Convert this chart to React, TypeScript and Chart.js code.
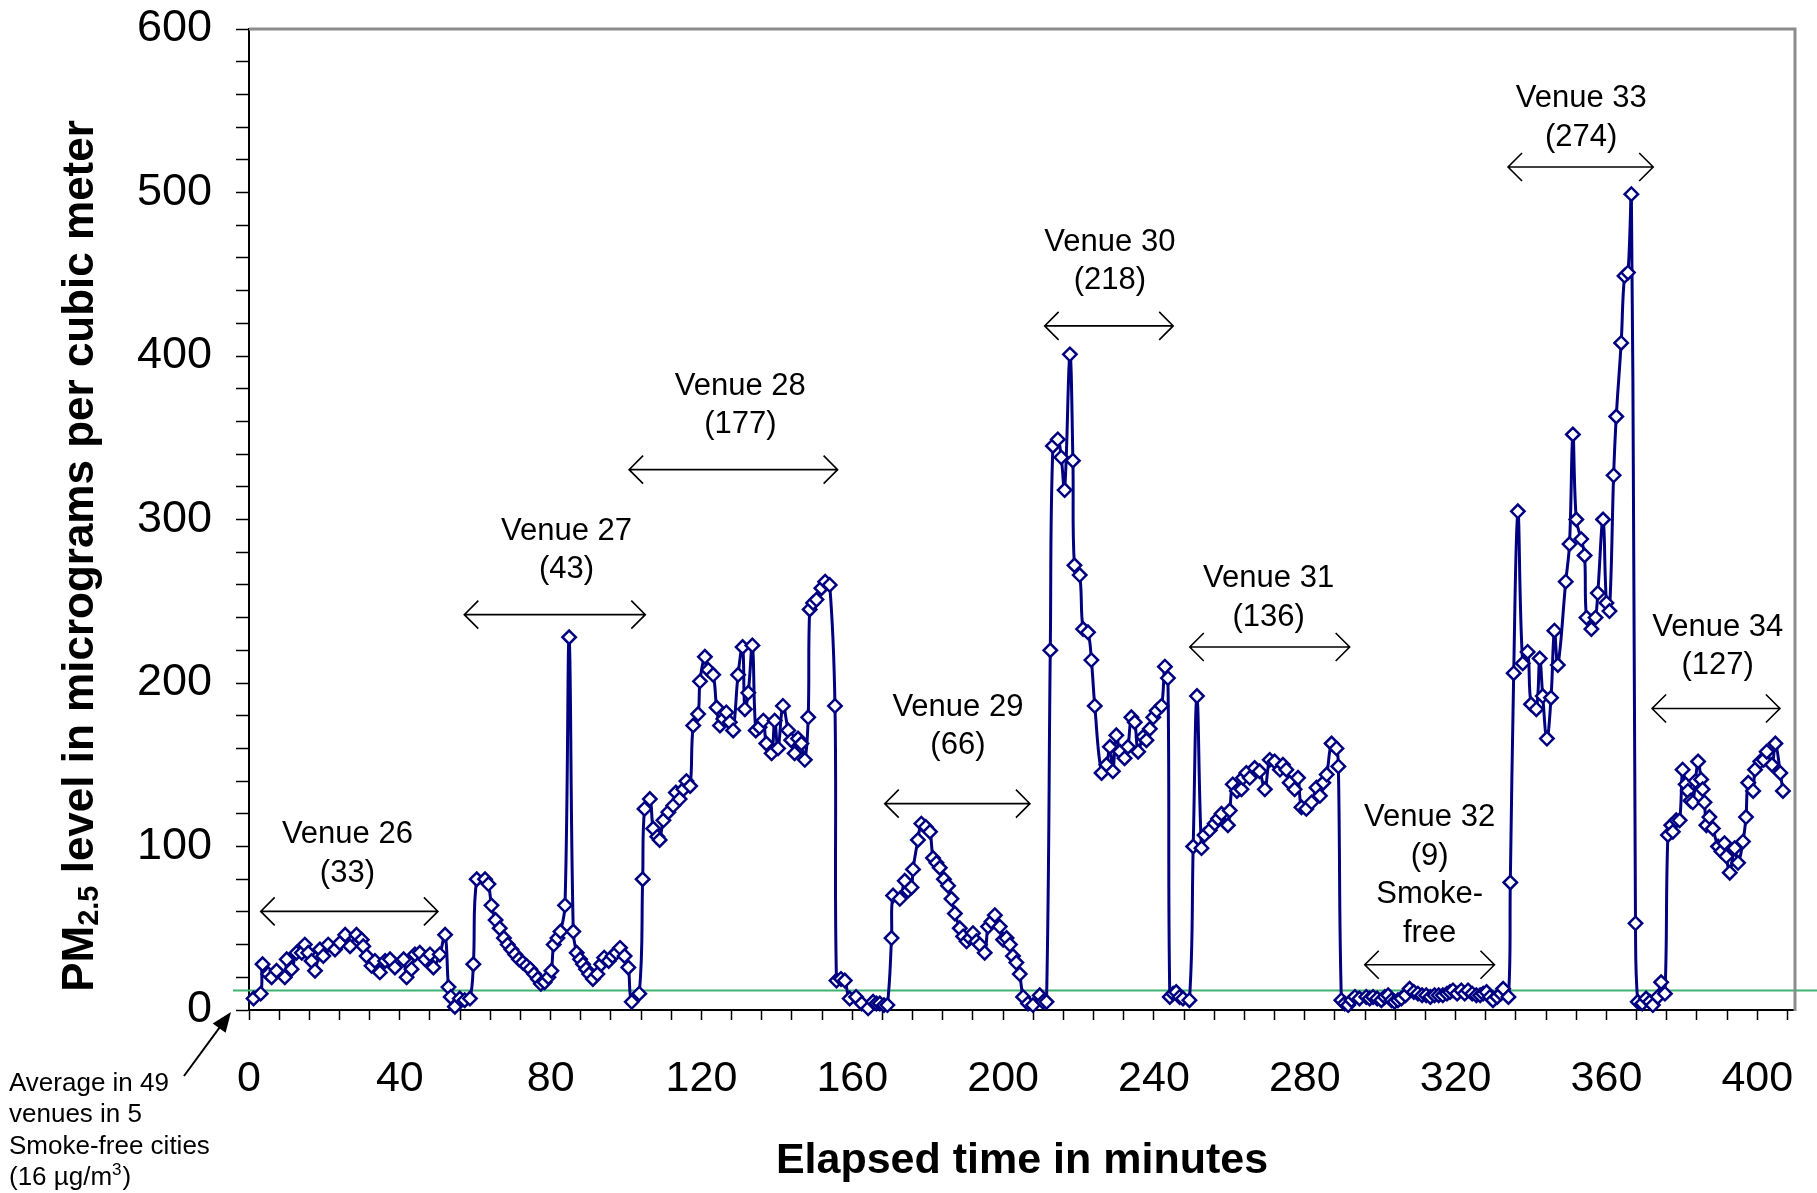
import React, { useEffect, useRef } from 'react';
import { Chart, registerables } from 'chart.js';

Chart.register(...registerables);

const FONT = "'Liberation Sans', Arial, Helvetica, sans-serif";

// ---------- Data (elapsed minutes, PM2.5 in µg/m³) ----------
const venue26Minutes = [1.2, 3.1, 3.6, 5.1, 6.0, 7.3, 9.5, 10.0, 11.3, 12.6, 14.0, 14.8, 15.7, 16.6, 17.5, 18.8, 19.7, 21.0, 22.8, 24.1, 25.5, 26.8, 28.5, 29.9, 30.3, 31.2, 32.5, 33.4, 34.7, 36.1, 37.4, 38.7, 41.0, 41.8, 43.1, 44.0, 45.3, 46.7, 48.0, 48.9, 50.6, 52.0, 52.9, 53.5, 54.6, 55.9, 57.2, 58.6];
const venue26Pm = [7, 10, 28, 22, 20, 24, 20, 31, 25, 35, 35, 40, 35, 30, 24, 37, 33, 40, 37, 41, 46, 39, 46, 43, 39, 33, 27, 30, 23, 30, 31, 26, 31, 20, 25, 34, 35, 31, 34, 26, 34, 46, 14, 8, 2, 7, 6, 7];

const venue27Minutes = [59.5, 60.4, 62.6, 63.5, 64.3, 65.4, 66.5, 67.6, 68.6, 69.6, 70.6, 71.6, 72.6, 73.6, 74.6, 75.6, 76.6, 77.4, 78.4, 79.4, 80.2, 80.8, 81.8, 82.6, 83.8, 84.9, 86.0, 86.9, 87.8, 88.6, 89.4, 90.2, 91.2, 92.4, 93.4, 94.2, 95.4, 96.4, 97.4, 98.4, 99.6, 100.6, 101.5, 103.5];
const venue27Pm = [28, 80, 80, 77, 64, 55, 50, 44, 40, 37, 34, 31, 29, 27, 25, 22, 19, 16, 17, 20, 24, 40, 44, 48, 64, 228, 48, 35, 31, 28, 25, 22, 19, 22, 28, 32, 30, 33, 35, 38, 33, 26, 5, 10];

const venue28Minutes = [104.4, 104.9, 106.3, 107.2, 108.3, 108.9, 109.9, 111.2, 112.5, 113.2, 114.2, 115.2, 116.0, 117.0, 117.8, 119.1, 119.6, 120.9, 121.8, 123.1, 124.0, 124.9, 125.8, 126.6, 127.5, 128.4, 129.7, 130.9, 131.5, 132.4, 133.5, 134.4, 135.4, 136.4, 137.2, 138.6, 139.4, 140.3, 141.6, 143.0, 143.8, 144.7, 145.6, 146.5, 147.4, 148.3, 148.7, 149.6, 150.5, 151.8, 152.8, 154.0, 155.4, 155.8, 157.0, 158.0, 159.3, 161.0, 162.5, 164.2, 165.5, 166.4, 167.3, 168.4, 169.3];
const venue28Pm = [80, 123, 129, 111, 106, 104, 116, 121, 125, 133, 129, 135, 140, 137, 174, 181, 201, 216, 208, 205, 185, 174, 178, 182, 176, 171, 205, 222, 184, 194, 223, 171, 173, 177, 163, 157, 177, 160, 186, 171, 165, 157, 166, 163, 153, 179, 245, 249, 251, 258, 262, 260, 186, 18, 19, 18, 7, 8, 4, 1, 5, 4, 4, 3, 3];

const venue29Minutes = [170.4, 170.8, 172.6, 173.9, 174.8, 175.7, 176.1, 177.4, 178.3, 179.5, 180.6, 181.4, 182.3, 183.2, 184.3, 185.4, 186.3, 187.2, 188.5, 189.4, 190.3, 191.2, 192.0, 192.9, 193.8, 195.1, 196.0, 196.9, 197.8, 199.1, 200.0, 200.9, 201.8, 202.6, 203.5, 204.4, 205.3, 206.6, 207.9, 209.7, 210.6, 211.5];
const venue29Pm = [44, 70, 68, 79, 73, 75, 86, 104, 114, 112, 109, 93, 90, 87, 80, 76, 68, 59, 50, 45, 42, 44, 47, 42, 40, 35, 51, 54, 58, 51, 43, 44, 40, 33, 29, 22, 8, 4, 3, 9, 5, 5];

const venue30Minutes = [212.5, 213.2, 214.5, 215.4, 216.3, 217.7, 218.5, 218.9, 220.3, 221.2, 222.5, 223.4, 224.3, 226.1, 227.4, 228.3, 229.1, 230.0, 231.0, 232.2, 233.1, 234.0, 234.9, 235.8, 237.1, 238.0, 238.9, 239.8, 240.7, 242.0, 242.9, 243.7, 244.2, 245.1, 245.9, 246.8, 247.7, 249.4];
const venue30Pm = [220, 345, 349, 338, 318, 401, 336, 272, 266, 233, 231, 214, 186, 145, 150, 161, 146, 168, 158, 154, 161, 179, 176, 158, 167, 165, 172, 179, 183, 186, 210, 203, 8, 10, 11, 8, 7, 6];

const venue31Minutes = [250.4, 251.4, 252.6, 253.4, 254.8, 256.1, 257.0, 257.9, 259.6, 260.1, 260.9, 262.0, 263.2, 263.6, 264.5, 265.4, 266.7, 268.0, 269.4, 270.7, 272.0, 273.4, 274.2, 275.1, 276.0, 277.3, 278.2, 279.1, 280.4, 281.8, 283.1, 284.0, 284.9, 285.8, 287.1, 288.4, 288.9, 289.7, 290.6, 291.5, 292.4, 293.3];
const venue31Pm = [100, 192, 99, 107, 110, 114, 117, 120, 113, 122, 138, 134, 135, 142, 145, 142, 148, 146, 135, 153, 152, 147, 150, 147, 139, 135, 142, 124, 123, 127, 136, 131, 139, 144, 163, 160, 149, 6, 4, 3, 6, 8];

const venue32Minutes = [294.5, 296.3, 297.2, 298.1, 299.2, 300.3, 301.2, 302.1, 303.0, 303.8, 304.7, 305.6, 306.7, 307.8, 308.9, 310.0, 311.1, 312.2, 313.3, 314.4, 315.5, 316.6, 317.7, 318.5, 319.3, 320.4, 321.5, 322.4, 323.3, 324.4, 325.5, 326.5, 327.3, 328.2, 329.1, 329.9, 331.0, 332.0, 332.6, 334.0];
const venue32Pm = [7, 8, 7, 8, 7, 6, 8, 9, 6, 5, 6, 7, 9, 13, 11, 10, 9, 9, 8, 9, 9, 9, 10, 11, 12, 10, 12, 10, 12, 10, 9, 9, 10, 11, 8, 6, 8, 10, 13, 8];

const venue33Minutes = [334.5, 335.4, 336.5, 337.8, 339.1, 340.0, 341.4, 342.3, 343.1, 344.2, 345.3, 346.2, 347.1, 349.2, 350.2, 351.1, 352.0, 353.3, 354.2, 354.7, 356.0, 357.1, 357.7, 359.1, 360.0, 360.8, 361.9, 362.6, 363.9, 364.8, 365.7, 366.6, 367.7, 368.3, 369.5, 370.5, 371.5, 372.3, 373.6, 374.5, 375.5];
const venue33Pm = [78, 206, 305, 212, 219, 187, 184, 215, 192, 166, 191, 232, 211, 262, 285, 352, 300, 288, 278, 240, 233, 240, 255, 300, 249, 244, 327, 363, 408, 449, 451, 499, 53, 5, 4, 7, 5, 3, 8, 17, 10];

const venue34Minutes = [376.3, 377.2, 377.6, 378.5, 379.4, 380.2, 381.0, 381.6, 382.3, 382.9, 383.6, 384.3, 385.1, 385.5, 386.0, 386.5, 387.3, 388.2, 389.6, 390.5, 391.3, 391.8, 392.7, 394.0, 394.9, 396.2, 397.0, 397.6, 398.9, 399.4, 400.8, 401.7, 402.5, 403.9, 404.8, 406.1, 406.8];
const venue34Pm = [107, 113, 109, 116, 116, 147, 138, 134, 128, 127, 140, 152, 141, 135, 127, 113, 118, 111, 100, 97, 102, 94, 84, 99, 90, 103, 118, 139, 134, 147, 152, 153, 158, 150, 163, 145, 134];

// Venue labels: name, average in parentheses, extra notes
const venueNames = ['Venue 26', 'Venue 27', 'Venue 28', 'Venue 29', 'Venue 30', 'Venue 31', 'Venue 32', 'Venue 33', 'Venue 34'];
const venueAverages = ['(33)', '(43)', '(177)', '(66)', '(218)', '(136)', '(9)', '(274)', '(127)'];
const venueNotes: string[][] = [[], [], [], [], [], [], ['Smoke-', 'free'], [], []];

// Smoke-free reference line
const smokeFreeLevel = 12;
const smokeFreeNote = ['Average in 49', 'venues in 5', 'Smoke-free cities'];

// Axis settings
const xMax = 410;
const yMax = 600;
const xTickLabels = [0, 40, 80, 120, 160, 200, 240, 280, 320, 360, 400];
const yTickLabels = [0, 100, 200, 300, 400, 500, 600];

// Annotation placement (data coordinates)
const labelCenterMinute = [26.1, 84.2, 130.3, 188, 228.3, 270.4, 313.1, 353.3, 389.5];
const labelTopLevel = [107.3, 292.9, 381.6, 185.1, 469.5, 263.8, 117.7, 557.4, 234];
const arrowLevel = [60.3, 241.8, 330.5, 126.2, 418.4, 222, 27.7, 515.6, 184.4];
const arrowFromMinute = [3.1, 57.1, 100.8, 168.6, 211, 249.5, 295.9, 333.9, 372.1];
const arrowToMinute = [50.1, 105.1, 156.1, 207.1, 245.1, 291.9, 330.3, 372.4, 406];

const allMinutes = [
  ...venue26Minutes, ...venue27Minutes, ...venue28Minutes, ...venue29Minutes, ...venue30Minutes,
  ...venue31Minutes, ...venue32Minutes, ...venue33Minutes, ...venue34Minutes,
];
const allPm = [
  ...venue26Pm, ...venue27Pm, ...venue28Pm, ...venue29Pm, ...venue30Pm,
  ...venue31Pm, ...venue32Pm, ...venue33Pm, ...venue34Pm,
];

function drawDoubleArrow(ctx: CanvasRenderingContext2D, x1: number, x2: number, y: number) {
  const hx = 14;
  const hy = 14;
  ctx.save();
  ctx.strokeStyle = '#000';
  ctx.lineWidth = 1.6;
  ctx.beginPath();
  ctx.moveTo(x1, y);
  ctx.lineTo(x2, y);
  ctx.moveTo(x1 + hx, y - hy);
  ctx.lineTo(x1, y);
  ctx.lineTo(x1 + hx, y + hy);
  ctx.moveTo(x2 - hx, y - hy);
  ctx.lineTo(x2, y);
  ctx.lineTo(x2 - hx, y + hy);
  ctx.stroke();
  ctx.restore();
}

function zeroPadding(s: any) {
  s.paddingTop = 0;
  s.paddingBottom = 0;
  s.paddingLeft = 0;
  s.paddingRight = 0;
}

const overlayPlugin = {
  id: 'overlayPlugin',
  beforeDatasetsDraw(chart: any) {
    const { ctx, chartArea, scales } = chart;
    const y = scales.y.getPixelForValue(smokeFreeLevel);
    ctx.save();
    ctx.strokeStyle = '#3cb371';
    ctx.lineWidth = 2;
    ctx.beginPath();
    ctx.moveTo(chartArea.left - 16, y);
    ctx.lineTo(chart.width, y);
    ctx.stroke();
    ctx.restore();
  },
  afterDraw(chart: any) {
    const { ctx, chartArea, scales } = chart;
    const xs = scales.x;
    const ys = scales.y;

    // gray frame on top and right
    ctx.save();
    ctx.strokeStyle = '#8c8c8c';
    ctx.lineWidth = 3;
    ctx.beginPath();
    ctx.moveTo(chartArea.left, chartArea.top);
    ctx.lineTo(chartArea.right, chartArea.top);
    ctx.lineTo(chartArea.right, chartArea.bottom + 1);
    ctx.stroke();
    ctx.restore();

    // venue labels and arrows
    ctx.save();
    ctx.fillStyle = '#000';
    ctx.font = `31px ${FONT}`;
    ctx.textAlign = 'center';
    ctx.textBaseline = 'middle';
    venueNames.forEach((name, i) => {
      const cx = xs.getPixelForValue(labelCenterMinute[i]);
      const top = ys.getPixelForValue(labelTopLevel[i]);
      const lines = [name, venueAverages[i], ...venueNotes[i]];
      lines.forEach((ln, k) => ctx.fillText(ln, cx, top + k * 38.5));
      drawDoubleArrow(ctx, xs.getPixelForValue(arrowFromMinute[i]), xs.getPixelForValue(arrowToMinute[i]), ys.getPixelForValue(arrowLevel[i]));
    });
    ctx.restore();

    // x-axis title
    ctx.save();
    ctx.fillStyle = '#000';
    ctx.font = `bold 43px ${FONT}`;
    ctx.textAlign = 'center';
    ctx.textBaseline = 'middle';
    ctx.fillText('Elapsed time in minutes', (chartArea.left + chartArea.right) / 2, 1161);
    ctx.restore();

    // y-axis title with subscript
    ctx.save();
    ctx.fillStyle = '#000';
    const mainFont = `bold 44px ${FONT}`;
    const subFont = `bold 29px ${FONT}`;
    const parts: [string, string, number][] = [
      ['PM', mainFont, 0],
      ['2.5', subFont, 9],
      [' level in micrograms per cubic meter', mainFont, 0],
    ];
    let total = 0;
    const widths = parts.map(([t, f]) => { ctx.font = f; const w = ctx.measureText(t).width; total += w; return w; });
    ctx.translate(81, 556);
    ctx.rotate(-Math.PI / 2);
    ctx.textBaseline = 'middle';
    ctx.textAlign = 'left';
    let pos = -total / 2;
    parts.forEach(([t, f, dy], i) => {
      ctx.font = f;
      ctx.fillText(t, pos, dy);
      pos += widths[i];
    });
    ctx.restore();

    // bottom-left note with arrow
    ctx.save();
    ctx.fillStyle = '#000';
    ctx.font = `26px ${FONT}`;
    ctx.textAlign = 'left';
    ctx.textBaseline = 'middle';
    const noteY = [1083.5, 1115, 1146.5];
    smokeFreeNote.forEach((ln, k) => ctx.fillText(ln, 9, noteY[k]));
    let nx = 9;
    const lastY = 1178;
    const seg1 = '(16 \u00b5g/m';
    ctx.fillText(seg1, nx, lastY);
    nx += ctx.measureText(seg1).width;
    ctx.font = `17px ${FONT}`;
    ctx.fillText('3', nx, lastY - 8);
    nx += ctx.measureText('3').width + 1;
    ctx.font = `26px ${FONT}`;
    ctx.fillText(')', nx, lastY);

    const tipX = 231;
    const tipY = ys.getPixelForValue(0) + 2;
    const tailX = 184;
    const tailY = 1076;
    const ang = Math.atan2(tipY - tailY, tipX - tailX);
    ctx.strokeStyle = '#000';
    ctx.lineWidth = 2;
    ctx.beginPath();
    ctx.moveTo(tailX, tailY);
    ctx.lineTo(tipX - 12 * Math.cos(ang), tipY - 12 * Math.sin(ang));
    ctx.stroke();
    ctx.beginPath();
    ctx.moveTo(tipX, tipY);
    ctx.lineTo(tipX - 20 * Math.cos(ang) + 8 * Math.sin(ang), tipY - 20 * Math.sin(ang) - 8 * Math.cos(ang));
    ctx.lineTo(tipX - 20 * Math.cos(ang) - 8 * Math.sin(ang), tipY - 20 * Math.sin(ang) + 8 * Math.cos(ang));
    ctx.closePath();
    ctx.fill();
    ctx.restore();
  },
};

export default function App() {
  const ref = useRef<HTMLCanvasElement>(null);
  useEffect(() => {
    document.body.style.margin = '0';
    const canvas = ref.current;
    if (!canvas) return;
    const points = allMinutes.map((m, i) => ({ x: m, y: allPm[i] }));
    const chart = new Chart(canvas, {
      type: 'line',
      data: {
        datasets: [
          {
            label: 'PM2.5',
            data: points,
            borderColor: '#000080',
            borderWidth: 3,
            tension: 0.4,
            pointStyle: 'rectRot',
            pointRadius: 6.7,
            pointBorderWidth: 2.5,
            pointBackgroundColor: '#ffffff',
            pointBorderColor: '#000080',
            clip: false,
          } as any,
        ],
      },
      options: {
        responsive: false,
        animation: false,
        devicePixelRatio: 1,
        layout: { padding: { left: 0, right: 22, top: 29, bottom: 0 } },
        plugins: {
          legend: { display: false },
          tooltip: { enabled: false },
          title: { display: false },
        },
        scales: {
          x: {
            type: 'linear',
            min: 0,
            max: xMax,
            afterFit: (s: any) => { s.height = 183; zeroPadding(s); },
            border: { display: true, color: '#000', width: 2 },
            grid: { display: true, drawOnChartArea: false, drawTicks: true, tickLength: 10, tickColor: '#000', tickWidth: 1.5 },
            ticks: {
              stepSize: 8,
              autoSkip: false,
              includeBounds: false,
              maxRotation: 0,
              padding: 33,
              color: '#000',
              font: { family: FONT, size: 43 },
              callback: (v: any) => (xTickLabels.includes(Number(v)) ? String(v) : ''),
            },
          },
          y: {
            type: 'linear',
            min: 0,
            max: yMax,
            afterFit: (s: any) => { s.width = 249; zeroPadding(s); },
            border: { display: true, color: '#000', width: 2 },
            grid: { display: true, drawOnChartArea: false, drawTicks: true, tickLength: 13, tickColor: '#000', tickWidth: 1.5 },
            ticks: {
              stepSize: 20,
              autoSkip: false,
              padding: 24,
              color: '#000',
              font: { family: FONT, size: 45 },
              callback: (v: any) => (yTickLabels.includes(Number(v)) ? String(v) : ''),
            },
          },
        },
      },
      plugins: [overlayPlugin],
    } as any);
    return () => chart.destroy();
  }, []);
  return (
    <canvas
      ref={ref}
      width={1817}
      height={1193}
      style={{ display: 'block', width: '1817px', height: '1193px' }}
    />
  );
}
